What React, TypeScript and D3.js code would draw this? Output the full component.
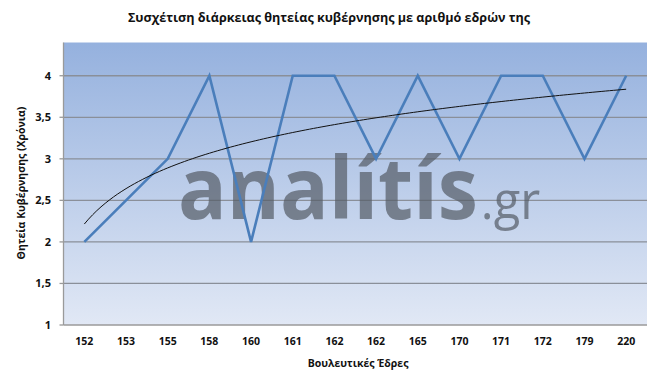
import React from "react";
import * as d3 from "d3";

const categories = ["152", "153", "155", "158", "160", "161", "162", "162", "165", "170", "171", "172", "179", "220"];
const values = [2, 2.5, 3, 4, 2, 4, 4, 3, 4, 3, 4, 4, 3, 4];
const yTicks = [1, 1.5, 2, 2.5, 3, 3.5, 4];
const title = "Συσχέτιση διάρκειας θητείας κυβέρνησης με αριθμό εδρών της";
const xTitle = "Βουλευτικές Έδρες";
const yTitle = "Θητεία Κυβέρνησης (Χρόνια)";

const W = 660, H = 383;
const left = 63.5, right = 647, top = 42.5, bottom = 325;

export default function App() {
  const x = d3.scaleBand<number>().domain(d3.range(categories.length)).range([left, right]);
  const y = d3.scaleLinear().domain([1, 4.4]).range([bottom, top]);
  const cx = (i: number) => (x(i) as number) + x.bandwidth() / 2;

  const line = d3.line<number>().x((_, i) => cx(i)).y((d) => y(d));

  // logarithmic trendline (least squares on ln(index+1))
  const lx = values.map((_, i) => Math.log(i + 1));
  const mx = d3.mean(lx) as number;
  const my = d3.mean(values) as number;
  const sxy = d3.sum(lx.map((v, i) => (v - mx) * (values[i] - my)));
  const sxx = d3.sum(lx.map((v) => (v - mx) * (v - mx)));
  const a = sxy / sxx;
  const b = my - a * mx;
  const trendPts = d3.range(0, categories.length - 1 + 0.001, 0.1).map((t) => [
    cx(0) + t * x.step(),
    y(a * Math.log(t + 1) + b),
  ] as [number, number]);
  const trend = d3.line()(trendPts) || "";

  const font = "'Open Sans', 'DejaVu Sans', sans-serif";

  return (
    <svg width={W} height={H} style={{ position: "absolute", left: 0, top: 0, background: "#fff" }}>
      <defs>
        <linearGradient id="bg" x1="0" y1="0" x2="0" y2="1">
          <stop offset="0" stopColor="#95b1de" />
          <stop offset="1" stopColor="#e1e8f5" />
        </linearGradient>
      </defs>
      <text x={329} y={22} textAnchor="middle" fontFamily={font} fontWeight="bold" fontSize={12.6} fill="#111">
        {title}
      </text>
      <rect x={left} y={top} width={right - left} height={bottom - top} fill="url(#bg)" />
      {yTicks.slice(1).map((t) => (
        <line key={t} x1={left} x2={right} y1={y(t)} y2={y(t)} stroke="#8a8f99" strokeWidth={1.3} />
      ))}
      <line x1={left} x2={left} y1={top} y2={bottom} stroke="#9a9a9a" strokeWidth={1.3} />
      <line x1={left} x2={right} y1={bottom} y2={bottom} stroke="#9a9a9a" strokeWidth={1.3} />
      {yTicks.map((t) => (
        <g key={t}>
          <line x1={left - 4} x2={left} y1={y(t)} y2={y(t)} stroke="#9a9a9a" strokeWidth={1.3} />
          <text x={51} y={y(t) + 4} textAnchor="end" fontFamily={font} fontWeight="bold" fontSize={11} fill="#111">
            {String(t).replace(".", ",")}
          </text>
        </g>
      ))}
      {categories.map((c, i) => (
        <text key={i} x={cx(i)} y={345} textAnchor="middle" fontFamily={font} fontWeight="bold" fontSize={10.5} fill="#111">
          {c}
        </text>
      ))}
      <text x={358} y={367} textAnchor="middle" fontFamily={font} fontWeight="bold" fontSize={10.5} fill="#111">
        {xTitle}
      </text>
      <text transform={`translate(25,183) rotate(-90)`} textAnchor="middle" fontFamily={font} fontWeight="bold" fontSize={10.5} fill="#111">
        {yTitle}
      </text>
      <text transform="translate(178,219) scale(0.94,1)" opacity={0.7} fill="#555c66" fontFamily={font} fontWeight="bold" fontSize={86}>
        analítís<tspan fontSize={52} fontWeight="normal" dx={3}>.gr</tspan>
      </text>
      <path d={line(values) || ""} fill="none" stroke="#4a7ebb" strokeWidth={2.6} strokeLinejoin="miter" />
      <path d={trend} fill="none" stroke="#111" strokeWidth={1} />
    </svg>
  );
}
